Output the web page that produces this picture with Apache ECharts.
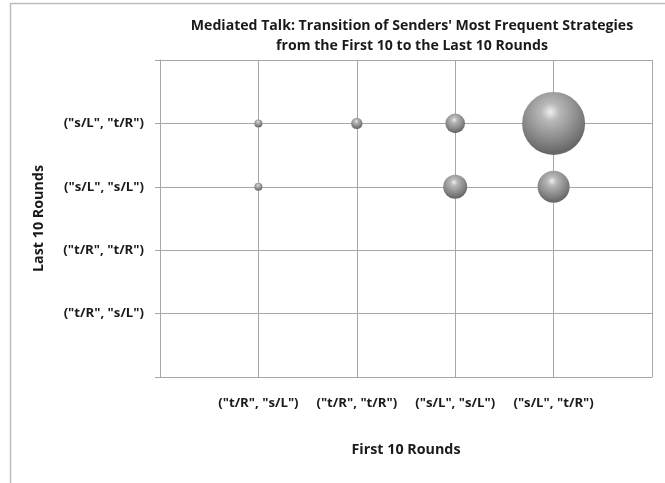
<!DOCTYPE html>
<html>
<head>
<meta charset="utf-8">
<script src="https://cdn.jsdelivr.net/npm/echarts@6/dist/echarts.min.js"></script>
<style>
html,body{margin:0;padding:0;background:#fff;}
#chart{width:665px;height:483px;}
</style>
</head>
<body>
<div id="chart"></div>
<script>
// Category tick labels (index 1..4 on each axis)
const xCategories = ['("t/R", "s/L")', '("t/R", "t/R")', '("s/L", "s/L")', '("s/L", "t/R")'];
const yCategories = ['("t/R", "s/L")', '("t/R", "t/R")', '("s/L", "s/L")', '("s/L", "t/R")'];
// Bubbles: position (1-based category index) and size value
const pointX    = [1, 1, 2, 3, 3, 4, 4];
const pointY    = [4, 3, 4, 4, 3, 4, 3];
const pointSize = [1, 1, 2, 6, 9, 62, 16];

const titleText = "Mediated Talk: Transition of Senders' Most Frequent Strategies\nfrom the First 10 to the Last 10 Rounds";
const xName = 'First 10 Rounds';
const yName = 'Last 10 Rounds';

const FONT = 'Open Sans';
const data = pointX.map((x, i) => [x, pointY[i], pointSize[i]]);

const chart = echarts.init(document.getElementById('chart'), null, {renderer: 'canvas'});
chart.setOption({
  backgroundColor: '#ffffff',
  animation: false,
  graphic: [{
    type: 'rect', silent: true, z: -10,
    shape: {x: 10.5, y: 3.5, width: 800, height: 600},
    style: {fill: 'none', stroke: '#bdbdbd', lineWidth: 1.5}
  }],
  title: {
    text: titleText,
    left: 407, top: 11, textAlign: 'center',
    textStyle: {fontFamily: FONT, fontWeight: 'bold', fontSize: 14.1, color: '#1a1a1a', lineHeight: 20}
  },
  grid: {left: 160, top: 60, right: 13, bottom: 106, containLabel: false},
  xAxis: {
    type: 'value', min: 0, max: 5, interval: 1,
    name: xName, nameLocation: 'middle', nameGap: 66,
    nameTextStyle: {fontFamily: FONT, fontWeight: 'bold', fontSize: 14.3, color: '#1a1a1a'},
    axisLine: {show: true, lineStyle: {color: '#a6a6a6', width: 1}},
    axisTick: {show: false},
    splitLine: {show: true, lineStyle: {color: '#a6a6a6', width: 1}},
    axisLabel: {
      margin: 20, fontFamily: FONT, fontWeight: 'bold', fontSize: 13.2, color: '#1a1a1a',
      formatter: v => (v >= 1 && v <= 4) ? xCategories[v - 1] : ''
    }
  },
  yAxis: {
    type: 'value', min: 0, max: 5, interval: 1,
    name: yName, nameLocation: 'middle', nameGap: 114, nameRotate: 90,
    nameTextStyle: {fontFamily: FONT, fontWeight: 'bold', fontSize: 14.3, color: '#1a1a1a'},
    axisLine: {show: true, lineStyle: {color: '#a6a6a6', width: 1}},
    axisTick: {show: true, length: 5, lineStyle: {color: '#a6a6a6', width: 1}},
    splitLine: {show: true, lineStyle: {color: '#a6a6a6', width: 1}},
    axisLabel: {
      margin: 16, fontFamily: FONT, fontWeight: 'bold', fontSize: 13.2, color: '#1a1a1a',
      formatter: v => (v >= 1 && v <= 4) ? yCategories[v - 1] : ''
    }
  },
  series: [{
    type: 'scatter',
    data: data,
    symbol: 'circle',
    symbolSize: d => 8 * Math.sqrt(d[2]),
    itemStyle: {
      opacity: 1,
      color: {
        type: 'radial', x: 0.45, y: 0.32, r: 0.72,
        colorStops: [
          {offset: 0, color: '#eeeeee'},
          {offset: 0.2, color: '#b8b8b8'},
          {offset: 0.65, color: '#858585'},
          {offset: 0.9, color: '#676767'},
          {offset: 1, color: '#767676'}
        ]
      }
    }
  }]
});
</script>
</body>
</html>
